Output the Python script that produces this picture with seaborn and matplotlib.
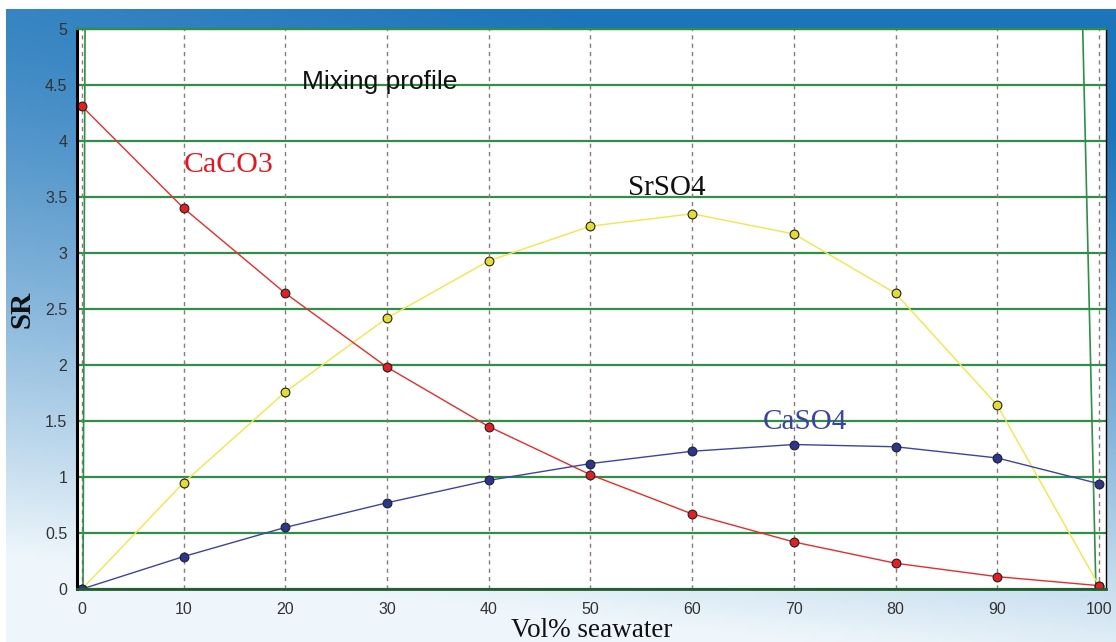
import numpy as np
import pandas as pd
import matplotlib.pyplot as plt
import seaborn as sns
from matplotlib.colors import to_rgb

# data
vol_pct = [0, 10, 20, 30, 40, 50, 60, 70, 80, 90, 100]
caco3 = [4.31, 3.40, 2.64, 1.98, 1.45, 1.02, 0.67, 0.42, 0.23, 0.11, 0.03]
srso4 = [0.00, 0.95, 1.76, 2.42, 2.93, 3.24, 3.35, 3.17, 2.64, 1.64, 0.03]
caso4 = [0.00, 0.29, 0.55, 0.77, 0.97, 1.12, 1.23, 1.29, 1.27, 1.17, 0.94]

# the two green boundary traces near both ends
left_edge_x = [0.3, 0.1]
right_edge_x = [98.4, 99.7]
edge_y = [5.0, 0.0]

y_ticks = [0, 0.5, 1, 1.5, 2, 2.5, 3, 3.5, 4, 4.5, 5]
y_tick_labels = ['0', '0.5', '1', '1.5', '2', '2.5', '3', '3.5', '4', '4.5', '5']
x_ticks = [0, 10, 20, 30, 40, 50, 60, 70, 80, 90, 100]

df = pd.DataFrame({
    'vol': vol_pct * 3,
    'SR': srso4 + caco3 + caso4,
    'mineral': ['SrSO4'] * 11 + ['CaCO3'] * 11 + ['CaSO4'] * 11,
})

line_colors = {'SrSO4': '#f2e64a', 'CaCO3': '#ec2a2a', 'CaSO4': '#3b44a6'}
marker_fill = {'SrSO4': '#e4dc34', 'CaCO3': '#e01f26', 'CaSO4': '#2c3690'}

sns.set_style('white')
plt.rcParams['font.family'] = ['Liberation Sans', 'DejaVu Sans']

fig = plt.figure(figsize=(11.16, 6.42), dpi=100)

# blue gradient frame behind the chart
bg = fig.add_axes([6 / 1116, 0, 1 - 6 / 1116, 1 - 9 / 642], zorder=-5)
h, w = 200, 300
v = np.linspace(0, 1, h)[:, None]
u = np.linspace(0, 1, w)[None, :]
t = np.clip(1.05 * v ** 1.3 + 0.25 * (1 - u) - 0.12, 0, 1)
top_c = np.array(to_rgb('#1c74ba'))
bot_c = np.array(to_rgb('#eef6fb'))
img = top_c[None, None, :] * (1 - t[..., None]) + bot_c[None, None, :] * t[..., None]
bg.imshow(img, aspect='auto', extent=[0, 1, 0, 1])
bg.axis('off')

ax = fig.add_axes([77 / 1116, (642 - 589) / 642, (1106 - 77) / 1116, (589 - 29) / 642])
ax.set_facecolor('white')

# grid
for yv in y_ticks:
    ax.axhline(yv, color='#2e8f45', lw=1.6, zorder=1)
for xv in x_ticks:
    ax.axvline(xv, color='#8a7a78', lw=1.0, ls=(0, (3, 3)), zorder=1)

ax.plot(left_edge_x, edge_y, color='#2e8f45', lw=1.2, zorder=2)
ax.plot(right_edge_x, edge_y, color='#2e8f45', lw=1.2, zorder=2)

sns.lineplot(data=df, x='vol', y='SR', hue='mineral', palette=line_colors,
             lw=1.0, legend=False, ax=ax, zorder=3)
for name in ['SrSO4', 'CaCO3', 'CaSO4']:
    sub = df[df['mineral'] == name]
    sns.scatterplot(x=sub['vol'], y=sub['SR'], color=marker_fill[name], s=40,
                    edgecolor='#222222', linewidth=0.8, ax=ax, zorder=4, legend=False)

ax.set_xlim(-0.49, 100.69)
ax.set_ylim(0, 5)
ax.set_xticks(x_ticks)
ax.set_xticks(np.arange(0, 101, 2.5), minor=True)
ax.set_yticks(y_ticks)
ax.set_yticklabels(y_tick_labels)

ax.tick_params(axis='both', which='major', direction='out', length=4, width=1,
               color='#5a7a5a', pad=3, labelsize=11.5, labelcolor='#333333')
ax.tick_params(axis='x', which='minor', direction='out', length=3, width=0.8,
               color='#7a7a7a')
ax.tick_params(axis='x', which='major', pad=5)

ax.spines['left'].set_color('black')
ax.spines['left'].set_linewidth(2.2)
ax.spines['bottom'].set_color('#1f5e2c')
ax.spines['bottom'].set_linewidth(2.0)
ax.spines['top'].set_color('#2e8f45')
ax.spines['top'].set_linewidth(1.6)
ax.spines['right'].set_color('black')
ax.spines['right'].set_linewidth(1.0)
for s in ax.spines.values():
    s.set_zorder(5)

ax.set_xlabel('Vol% seawater', family='Liberation Serif', fontsize=19.5,
              color='#111111', labelpad=1)
ax.set_ylabel('SR', family='Liberation Serif', fontsize=21, fontweight='bold',
              color='#111111', labelpad=7)

ax.text(29.3, 4.53, 'Mixing profile', family='Liberation Sans', fontsize=19,
        ha='center', va='center', color='#111111', zorder=6)
ax.text(14.45, 3.79, 'CaCO3', family='Liberation Serif', fontsize=21.5,
        ha='center', va='center', color='#e8141c', zorder=6)
ax.text(57.5, 3.58, 'SrSO4', family='Liberation Serif', fontsize=21,
        ha='center', va='center', color='#111111', zorder=6)
ax.text(71.1, 1.49, 'CaSO4', family='Liberation Serif', fontsize=21,
        ha='center', va='center', color='#3b44a6', zorder=6)

fig.savefig('out.png', dpi=100)
